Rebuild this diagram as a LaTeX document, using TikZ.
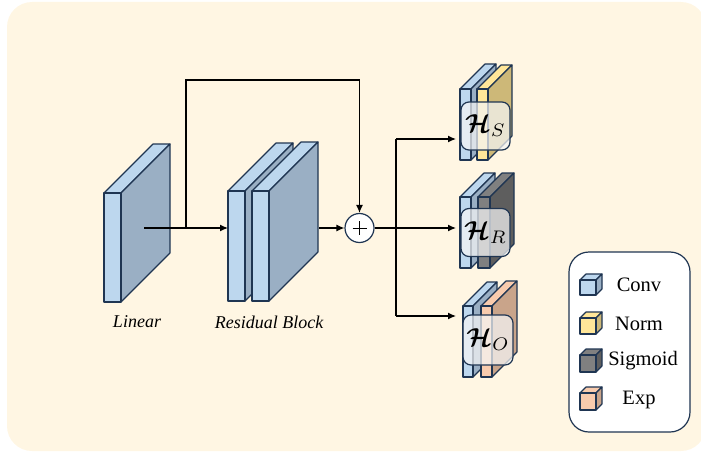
\documentclass[tikz,border=0pt]{standalone}
\usepackage{fontspec}
\setmainfont{Liberation Serif}
\usepackage{amsmath,bm,graphicx}
\usetikzlibrary{arrows.meta}
\definecolor{bg}{HTML}{FFF6E3}
\definecolor{edge}{HTML}{1F3552}
\definecolor{convF}{HTML}{BDD7EE}
\definecolor{convS}{HTML}{9AAFC4}
\definecolor{normF}{HTML}{FFE699}
\definecolor{normS}{HTML}{CDB878}
\definecolor{sigF}{HTML}{808080}
\definecolor{sigS}{HTML}{5E5E5E}
\definecolor{expF}{HTML}{F8CBAD}
\definecolor{expS}{HTML}{C9A48A}
% #1 x, #2 y (front top-left), #3 width, #4 height, #5 depth, #6 front colour, #7 side colour
\newcommand{\slabat}[7]{%
  \filldraw[slabline, fill=#6] (#1,#2) -- ++(#5,-#5) -- ++(#3,0) -- ++(-#5,#5) -- cycle;
  \filldraw[slabline, fill=#7] (#1+#3,#2) -- ++(#5,-#5) -- ++(0,#4) -- ++(-#5,#5) -- cycle;
  \filldraw[slabline, fill=#6] (#1,#2) rectangle ++(#3,#4);
}
\newcommand{\headlab}[1]{\scalebox{2.6}{$\bm{\mathcal{H}}_{#1}$}}
\tikzset{
  slabline/.style={draw=edge, line width=1.1pt, line join=round},
  arr/.style={-{Latex[length=8pt,width=7pt]}, line width=1.2pt, black},
  conn/.style={line width=1.2pt, black},
  hbox/.style={draw=edge, line width=1.2pt, rounded corners=8pt, fill=white!96!black, fill opacity=0.72, text opacity=1, minimum width=49pt, minimum height=48pt, inner sep=0pt},
  lab/.style={font=\fontsize{18}{22}\selectfont\itshape, inner sep=0pt},
  leglab/.style={font=\fontsize{20.5}{24}\selectfont, inner sep=0pt},
}
\begin{document}
\begin{tikzpicture}[x=1pt, y=-1pt]
\useasboundingbox (0,0) rectangle (701,452);
\fill[bg, rounded corners=25pt] (7,2) rectangle (706,451);

% Linear
\slabat{104}{193}{17}{109}{49}{convF}{convS}
\node[lab] (linlab) at (137,322) {Linear};
% Residual block
\slabat{228}{191}{17}{110}{48}{convF}{convS}
\slabat{252}{191}{17}{110}{49}{convF}{convS}
\node[lab] (reslab) at (269,322) {Residual Block};

% connector points
\coordinate (lin) at (144,228);
\coordinate (br) at (186,228);
\coordinate (skip) at (186,80);
\coordinate (resin) at (228,228);
\coordinate (resout) at (319,228);
\node[circle, draw=edge, fill=white, line width=1.2pt, minimum size=29pt, inner sep=0pt] (plus) at (359.5,228) {};
\draw[line width=1pt] (plus.center) +(-7,0) -- +(7,0) (plus.center) +(0,-7) -- +(0,7);
\coordinate (split) at (396,228);
\coordinate (hS) at (456,139);
\coordinate (hR) at (456,228);
\coordinate (hO) at (456,316);

\draw[arr] (lin) -- (resin);
\draw[arr] (br) -- (skip) -| (plus.north);
\draw[arr] (resout) -- (plus.west);
\draw[arr] (plus.east) -- (hR);
\draw[conn] (split |- hS) -- (split |- hO);
\draw[arr] (split |- hS) -- (hS);
\draw[arr] (split |- hO) -- (hO);

% heads
\slabat{460}{89}{11}{71}{25}{convF}{convS}
\slabat{477}{89}{11}{71}{24}{normF}{normS}
\node[hbox] (HS) at (485.5,126) {\headlab{S}};

\slabat{460}{197}{11}{71}{24}{convF}{convS}
\slabat{478}{197}{12}{71}{24}{sigF}{sigS}
\node[hbox] (HR) at (485.5,232.5) {\headlab{R}};

\slabat{463}{306}{10}{71}{24}{convF}{convS}
\slabat{481}{306}{11}{71}{25}{expF}{expS}
\node[hbox, minimum width=50pt, minimum height=50pt] (HO) at (488,340) {\headlab{O}};

% legend
\node[draw=edge, fill=white, line width=1.2pt, rounded corners=20pt, minimum width=121pt, minimum height=180pt, inner sep=0pt] (legend) at (629.5,342) {};
\slabat{580}{280}{16}{15}{6}{convF}{convS}
\slabat{580}{318}{16}{16}{6}{normF}{normS}
\slabat{580}{355}{16}{17}{6}{sigF}{sigS}
\slabat{580}{393}{16}{17}{6}{expF}{expS}
\node[leglab] (lconv) at (639,285) {Conv};
\node[leglab] (lnorm) at (639,324) {Norm};
\node[leglab] (lsig) at (643,361) {Sigmoid};
\node[leglab] (lexp) at (639,400) {Exp};
\end{tikzpicture}
\end{document}
